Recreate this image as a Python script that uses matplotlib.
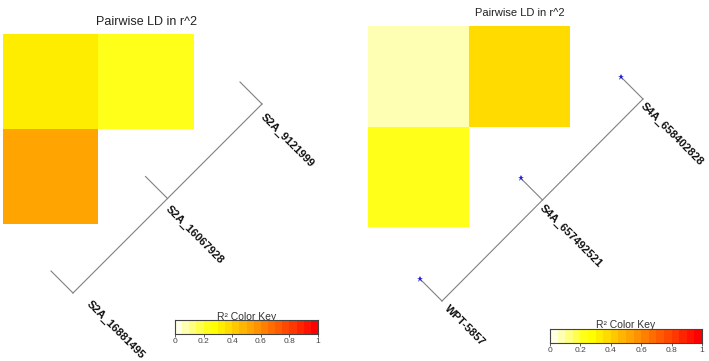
import numpy as np
import matplotlib
matplotlib.use("Agg")
import matplotlib.pyplot as plt
from matplotlib.colors import ListedColormap, BoundaryNorm, hsv_to_rgb

plt.rcParams['font.family'] = ['Liberation Sans', 'DejaVu Sans']

# pairwise r^2 values (upper triangle shown as a 2x2 block, last cell empty)
left_snps = ["S2A_9121999", "S2A_16067928", "S2A_16881495"]
left_ld = [[0.32, 0.23],
           [0.52, np.nan]]

right_snps = ["S4A_658402828", "S4A_657492521", "WPT-5857"]
right_ld = [[0.07, 0.37],
            [0.23, np.nan]]

# position of each SNP along the map line (0 = top end, 1 = bottom end)
map_pos = [0.0, 0.5, 1.0]
key_ticks = [0, 0.2, 0.4, 0.6, 0.8, 1]
key_labels = ["0", "0.2", "0.4", "0.6", "0.8", "1"]


def heat_colors(n):
    # same recipe as R's heat.colors(), then reversed
    j = n // 4
    i = n - j
    cols = [hsv_to_rgb((h, 1, 1)) for h in np.linspace(0, 1 / 6, i)]
    cols += [hsv_to_rgb((1 / 6, s, 1)) for s in np.linspace(1 - 1 / (2 * j), 1 / (2 * j), j)]
    return cols[::-1]


cmap = ListedColormap(heat_colors(20))
norm = BoundaryNorm(np.linspace(0, 1, 21), cmap.N)

W, H = 709, 361
fig = plt.figure(figsize=(W / 100, H / 100), dpi=100)
ax = fig.add_axes([0, 0, 1, 1])
ax.set_xlim(0, W)
ax.set_ylim(H, 0)
ax.axis("off")


def panel(ld, snps, xedges, yedges, title, title_xy, title_fs,
          line_top, line_bot, label_xy, stars, key_box, key_fs):
    data = np.ma.masked_invalid(np.array(ld))
    ax.pcolormesh(xedges, yedges, data, cmap=cmap, norm=norm)
    ax.text(title_xy[0], title_xy[1], title, ha="center", va="center",
            fontsize=title_fs, color="#222222")

    (x0, y0), (x1, y1) = line_top, line_bot
    ax.plot([x0, x1], [y0, y1], color="#808080", lw=0.8)
    for k, p in enumerate(map_pos):
        bx = x0 + (x1 - x0) * p
        by = y0 + (y1 - y0) * p
        tx, ty = bx - 22, by - 22
        ax.plot([bx, tx], [by, ty], color="#808080", lw=0.8)
        if stars:
            ax.plot(tx, ty, marker="*", color="#2020d0", ms=5, mew=0)
        ax.text(label_xy[k][0], label_xy[k][1], snps[k], rotation=-45,
                rotation_mode="anchor", ha="left", va="top",
                fontsize=8, fontweight="bold", color="#111111")

    kx, ky, kw, kh = key_box
    cax = fig.add_axes([kx / W, 1 - (ky + kh) / H, kw / W, kh / H])
    edges = np.linspace(0, 1, 21)
    cax.pcolormesh(edges, [0, 1], ((edges[:-1] + edges[1:]) / 2)[None, :],
                   cmap=cmap, norm=norm)
    cax.set_xlim(0, 1)
    cax.set_ylim(0, 1)
    cax.set_yticks([])
    cax.set_xticks(key_ticks)
    cax.set_xticklabels(key_labels)
    cax.tick_params(axis="x", length=2, width=0.6, pad=1,
                    labelsize=key_fs, colors="#444444")
    for s in cax.spines.values():
        s.set_color("#444444")
        s.set_linewidth(0.8)
    ax.text(kx + kw / 2, ky + 1.5, "R\u00b2 Color Key", ha="center", va="bottom",
            fontsize=key_fs + 1.5, color="#333333")


panel(left_ld, left_snps, [3, 98, 194], [34, 129, 224],
      "Pairwise LD in r^2", (147, 22), 9,
      (262, 104), (73, 293),
      [(266, 112), (171, 204), (92, 299)], False,
      (175, 320, 143, 14), 6)

panel(right_ld, right_snps, [368, 469, 570], [26, 127, 227],
      "Pairwise LD in r^2", (520, 13), 8,
      (643, 99), (442, 301),
      [(646, 101), (545, 203), (450, 303)], True,
      (550, 329, 152, 14), 6)

fig.savefig("out.png", dpi=100)
